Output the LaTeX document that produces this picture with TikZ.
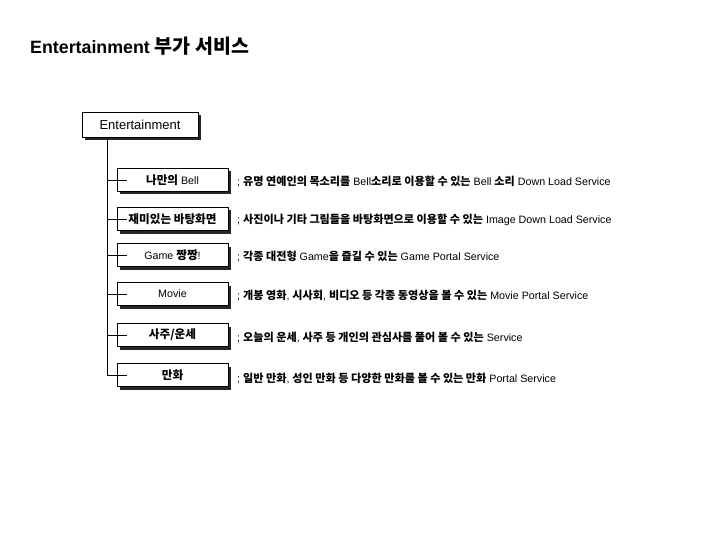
\documentclass[tikz,border=0pt]{standalone}
\usepackage{fontspec}
\setmainfont{Liberation Sans}
\newfontfamily\kr{Noto Sans CJK KR}
\def\ksize{11}
\newcommand{\K}[1]{{\kr\bfseries\fontsize{\ksize}{14}\selectfont #1}}
\usetikzlibrary{shadows}
\begin{document}
\begin{tikzpicture}[x=1pt,y=-1pt,
  shbox/.style={draw=black,line width=0.8pt,fill=white,inner sep=0pt,
    drop shadow={shadow xshift=3pt,shadow yshift=-3pt,fill=black!85,opacity=1}},
  rootbox/.style={shbox,minimum width=116pt,minimum height=25pt,font=\fontsize{13}{15}\selectfont},
  childbox/.style={shbox,minimum width=111pt,minimum height=23pt,font=\def\ksize{11.6}\fontsize{10.7}{12}\selectfont},
  desc/.style={anchor=west,inner sep=0pt,font=\def\ksize{11.1}\fontsize{10.7}{12}\selectfont},
  conn/.style={draw=black,line width=0.8pt}]
\useasboundingbox (0,0) rectangle (720,540);
\node[anchor=west,inner sep=0pt,font=\def\ksize{19.5}\fontsize{17.8}{20}\selectfont\bfseries] (title) at (30,46) {Entertainment \K{부가 서비스}};
\node[rootbox] (root) at (140,124.5) {Entertainment};
\node[childbox] (c1) at (172.5,180) {\K{나만의} Bell};
\node[childbox] (c2) at (172.5,219) {\K{재미있는 바탕화면}};
\node[childbox] (c3) at (172.5,255) {Game \K{짱짱}!};
\node[childbox] (c4) at (172.5,294) {Movie};
\node[childbox] (c5) at (172.5,335) {\K{사주/운세}};
\node[childbox] (c6) at (172.5,375) {\K{만화}};
\coordinate (top) at ([xshift=26pt]root.south west);
\draw[conn] (top) |- ([xshift=10pt]c6.west);
\foreach \i in {1,...,5}{\draw[conn] (top |- c\i.west) -- ([xshift=10pt]c\i.west);}
\node[desc] (d1) at (237,181) {; \K{유명 연예인의 목소리를} Bell\K{소리로 이용할 수 있는} Bell \K{소리} Down Load Service};
\node[desc] (d2) at (237,220) {; \K{사진이나 기타 그림들을 바탕화면으로 이용할 수 있는} Image Down Load Service};
\node[desc] (d3) at (237,256) {; \K{각종 대전형} Game\K{을 즐길 수 있는} Game Portal Service};
\node[desc] (d4) at (237,295) {; \K{개봉 영화}, \K{시사회}, \K{비디오 등 각종 동영상을 볼 수 있는} Movie Portal Service};
\node[desc] (d5) at (237,337) {; \K{오늘의 운세}, \K{사주 등 개인의 관심사를 풀어 볼 수 있는} Service};
\node[desc] (d6) at (237,378) {; \K{일반 만화}, \K{성인 만화 등 다양한 만화를 볼 수 있는 만화} Portal Service};
\end{tikzpicture}
\end{document}
